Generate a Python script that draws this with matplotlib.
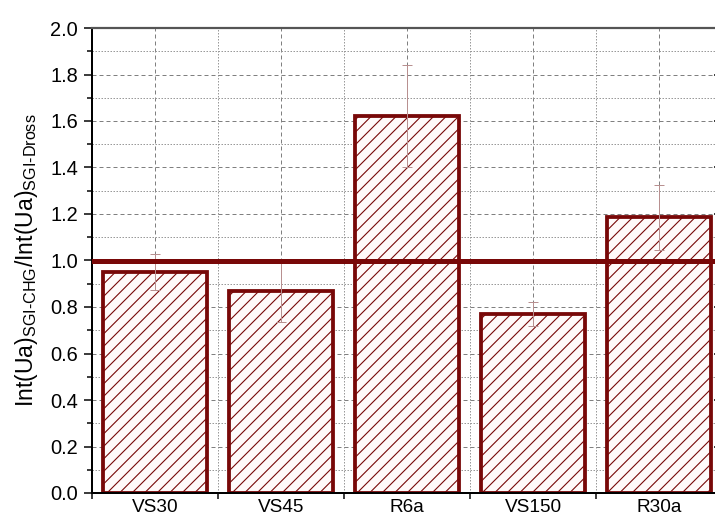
import matplotlib
matplotlib.use("Agg")
import matplotlib.pyplot as plt
import numpy as np
from matplotlib.ticker import MultipleLocator, FixedLocator

categories = ["VS30", "VS45", "R6a", "VS150", "R30a"]
values = [0.95, 0.87, 1.62, 0.77, 1.185]
errors = [0.077, 0.135, 0.22, 0.05, 0.14]
ref_level = 1.0

DPI = 75.6
W, H = 715, 518
def pt(px):
    return px * 72.0 / DPI

plt.rcParams['font.family'] = ['Liberation Sans', 'DejaVu Sans']
plt.rcParams['mathtext.fontset'] = 'custom'
plt.rcParams['mathtext.rm'] = 'Liberation Sans'
plt.rcParams['mathtext.it'] = 'Liberation Sans'
plt.rcParams['hatch.linewidth'] = pt(1.1)

dark_red = '#780808'

fig = plt.figure(figsize=(W / DPI, H / DPI), dpi=DPI)
ax = fig.add_axes([92 / W, 25 / H, 630 / W, 465 / H])

x = np.arange(len(categories))
ax.bar(x, values, width=0.82, facecolor='#fffafa', edgecolor=dark_red,
       linewidth=pt(3.8), hatch='//', zorder=2)
ax.errorbar(x, values, yerr=errors, fmt='none', ecolor='#b89090',
            elinewidth=pt(1.0), capsize=pt(5), capthick=pt(1.0), zorder=3)
ax.axhline(ref_level, color=dark_red, linewidth=pt(5), zorder=4)

ax.set_xlim(-0.5, len(categories) - 0.5)
ax.set_ylim(0, 2.0)

ax.set_xticks(x)
ax.set_xticklabels(categories)
ax.xaxis.set_minor_locator(FixedLocator(np.arange(-0.5, len(categories), 1.0)))
ax.yaxis.set_major_locator(MultipleLocator(0.2))
ax.yaxis.set_minor_locator(MultipleLocator(0.1))
ax.yaxis.set_major_formatter(matplotlib.ticker.FormatStrFormatter('%.1f'))

ax.tick_params(axis='x', which='major', length=0, pad=pt(6), labelsize=pt(19))
ax.tick_params(axis='x', which='minor', length=pt(6), width=pt(1.5), direction='out')
ax.tick_params(axis='y', which='major', length=pt(8), width=pt(1.5), direction='out',
               pad=pt(6), labelsize=pt(20))
ax.tick_params(axis='y', which='minor', length=pt(5), width=pt(1.5), direction='out')

# right-side inward ticks
sec = ax.secondary_yaxis('right')
sec.yaxis.set_major_locator(MultipleLocator(0.2))
sec.tick_params(direction='in', length=pt(8), width=pt(1.5), labelright=False)
sec.spines['right'].set_linewidth(pt(2))

ax.grid(which='major', axis='both', color='#808080', linestyle=(0, (4, 3)),
        linewidth=pt(1.0), zorder=0)
ax.grid(which='minor', axis='both', color='#9a9a9a', linestyle=(0, (1.5, 1.5)),
        linewidth=pt(1.0), zorder=0)
ax.set_axisbelow(True)

for s in ['left', 'bottom']:
    ax.spines[s].set_linewidth(pt(2))
    ax.spines[s].set_color('black')
ax.spines['top'].set_linewidth(pt(2.2))
ax.spines['top'].set_color('#555555')
ax.spines['right'].set_linewidth(pt(2))

ax.set_ylabel(r'Int(Ua)$_{\mathrm{SGI\text{-}CHG}}$/Int(Ua)$_{\mathrm{SGI\text{-}Dross}}$',
              fontsize=pt(23))
ax.yaxis.set_label_coords(-52 / 630, 0.5)

fig.savefig('out.png', dpi=DPI)
